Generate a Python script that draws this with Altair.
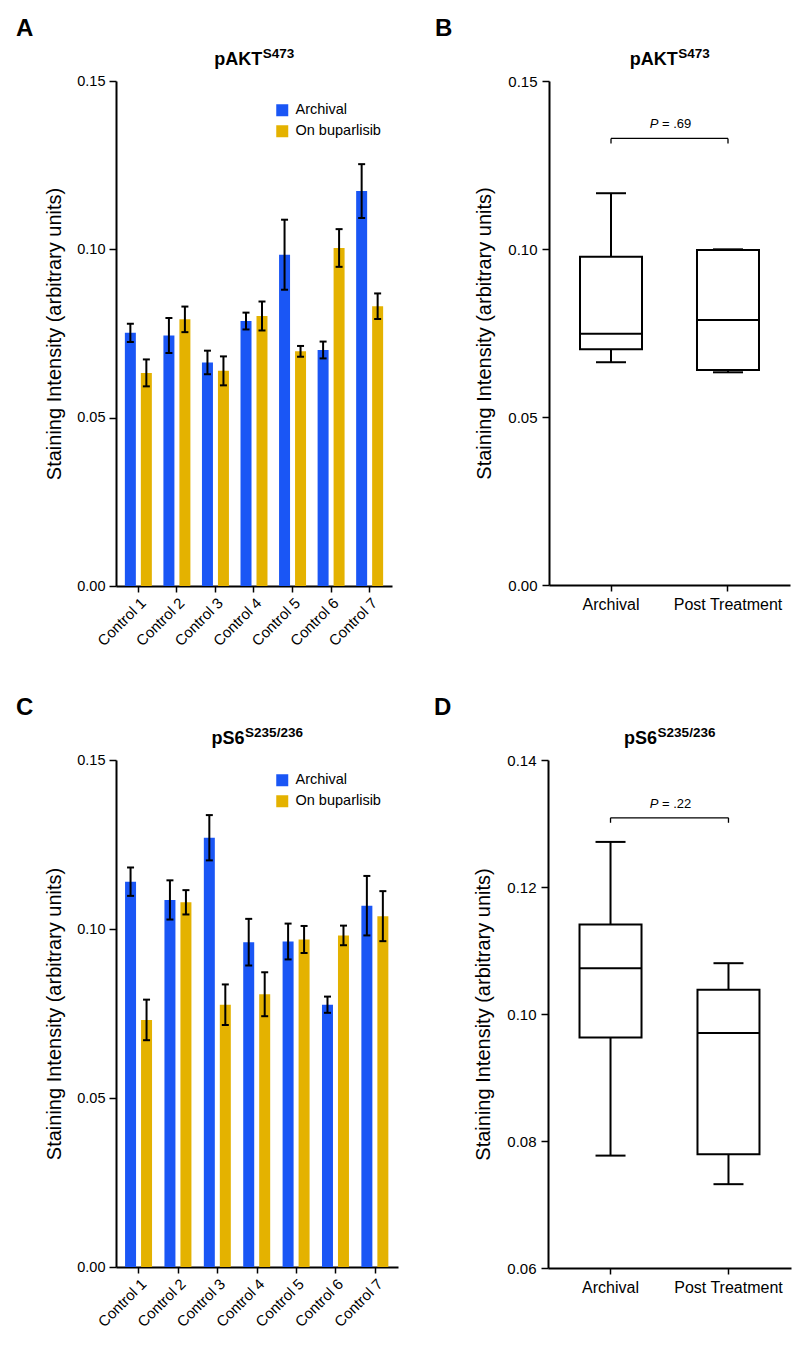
import altair as alt
import pandas as pd

# ---------------- data ----------------
controls = ["Control 1", "Control 2", "Control 3", "Control 4", "Control 5", "Control 6", "Control 7"]
series = ["Archival", "On buparlisib"]
colors = ["#1a56f5", "#e4b200"]

akt_archival = [0.0752, 0.0744, 0.0664, 0.0787, 0.0984, 0.0701, 0.1173]
akt_archival_err = [0.0027, 0.0052, 0.0035, 0.0025, 0.0104, 0.0025, 0.0080]
akt_buparlisib = [0.0633, 0.0792, 0.0639, 0.0802, 0.0697, 0.1004, 0.0831]
akt_buparlisib_err = [0.0040, 0.0038, 0.0043, 0.0043, 0.0016, 0.0056, 0.0038]

s6_archival = [0.1140, 0.1086, 0.1270, 0.0961, 0.0963, 0.0776, 0.1069]
s6_archival_err = [0.0042, 0.0058, 0.0067, 0.0069, 0.0053, 0.0024, 0.0088]
s6_buparlisib = [0.0731, 0.1079, 0.0776, 0.0807, 0.0969, 0.0981, 0.1038]
s6_buparlisib_err = [0.0060, 0.0036, 0.0060, 0.0065, 0.0040, 0.0029, 0.0074]

groups = ["Archival", "Post Treatment"]
akt_min = [0.0663, 0.0633]
akt_q1 = [0.0702, 0.0640]
akt_median = [0.0748, 0.0789]
akt_q3 = [0.0977, 0.0997]
akt_max = [0.1166, 0.0999]
s6_min = [0.0777, 0.0732]
s6_q1 = [0.0963, 0.0779]
s6_median = [0.1072, 0.0970]
s6_q3 = [0.1141, 0.1038]
s6_max = [0.1271, 0.1080]

akt_bracket = [0.1329]
akt_p = ["= .69"]
s6_bracket = [0.1309]
s6_p = ["= .22"]

YTITLE = "Staining Intensity (arbitrary units)"
FONT = "Liberation Sans"


def axis_common(**kw):
    base = dict(domainColor="black", domainWidth=2, tickColor="black", tickWidth=1.5,
                labelColor="black", titleColor="black", grid=False, labelFont=FONT,
                titleFont=FONT)
    base.update(kw)
    return alt.Axis(**base)


def header_layers(letter, main, sup, width, join_shift):
    one = pd.DataFrame({"k": [0]})
    letter_t = alt.Chart(one).mark_text(text=letter, font=FONT, fontSize=24, fontWeight="bold",
                                        align="left", baseline="alphabetic", color="black").encode(
        x=alt.value(-100 if letter in "AC" else -114), y=alt.value(-45))
    main_t = alt.Chart(one).mark_text(text=main, font=FONT, fontSize=18, fontWeight="bold",
                                      align="right", baseline="alphabetic", color="black").encode(
        x=alt.value(width / 2 + join_shift), y=alt.value(-16))
    sup_t = alt.Chart(one).mark_text(text=sup, font=FONT, fontSize=13.5, fontWeight="bold",
                                     align="left", baseline="alphabetic", color="black").encode(
        x=alt.value(width / 2 + join_shift + 0.5), y=alt.value(-23))
    return [letter_t, main_t, sup_t]


def bar_panel(arch, arch_err, bup, bup_err, letter, main, sup, width, height, legend_y, join_shift):
    rows = []
    for vals, errs, s in ((arch, arch_err, series[0]), (bup, bup_err, series[1])):
        for c, v, e in zip(controls, vals, errs):
            rows.append(dict(control=c, series=s, value=v, lo=v - e, hi=v + e))
    df = pd.DataFrame(rows)
    xaxis = axis_common(title=None, labelAngle=-45, labelFontSize=15, tickSize=6, labelPadding=3)
    x = alt.X("control:N", sort=controls, axis=xaxis,
              scale=alt.Scale(paddingInner=0.3, paddingOuter=0.23))
    xo = alt.XOffset("series:N", sort=series, scale=alt.Scale(paddingInner=0.3125, paddingOuter=0))
    yscale = alt.Scale(domain=[0, 0.15], nice=False)
    yaxis = axis_common(title=YTITLE, values=[0, 0.05, 0.10, 0.15], format=".2f", labelFontSize=14.5,
                        titleFontSize=20, titleFontWeight="normal", titlePadding=12, tickSize=7,
                        labelPadding=4)
    base = alt.Chart(df)
    bars = base.mark_bar().encode(
        x=x, xOffset=xo,
        y=alt.Y("value:Q", scale=yscale, axis=yaxis),
        color=alt.Color("series:N", scale=alt.Scale(domain=series, range=colors),
                        legend=alt.Legend(title=None, orient="none", legendX=159, legendY=legend_y,
                                          symbolType="square", symbolSize=144, symbolStrokeWidth=0,
                                          labelFontSize=14.5, labelFont=FONT, labelColor="black",
                                          rowPadding=6, labelOffset=6, padding=0)))
    err = base.mark_rule(strokeWidth=2, color="black").encode(
        x=x, xOffset=xo, y=alt.Y("lo:Q", scale=yscale, axis=yaxis), y2="hi:Q")
    cap_hi = base.mark_tick(size=7, thickness=2, color="black", opacity=1).encode(
        x=x, xOffset=xo, y=alt.Y("hi:Q", scale=yscale, axis=yaxis))
    cap_lo = base.mark_tick(size=7, thickness=2, color="black", opacity=1).encode(
        x=x, xOffset=xo, y=alt.Y("lo:Q", scale=yscale, axis=yaxis))
    layers = [bars, err, cap_hi, cap_lo] + header_layers(letter, main, sup, width, join_shift)
    return alt.layer(*layers).properties(width=width, height=height)


def box_panel(mins, q1s, meds, q3s, maxs, bracket, ptxt, letter, main, sup, width, height,
              ydomain, yvalues, join_shift):
    df = pd.DataFrame(dict(group=groups, lo=mins, q1=q1s, med=meds, q3=q3s, hi=maxs))
    xaxis = axis_common(title=None, labelAngle=0, labelFontSize=16, tickSize=6, labelPadding=5)
    x = alt.X("group:N", sort=groups, axis=xaxis, scale=alt.Scale(paddingInner=0, paddingOuter=0.03))
    yscale = alt.Scale(domain=ydomain, nice=False)
    yaxis = axis_common(title=YTITLE, values=yvalues, format=".2f", labelFontSize=15,
                        titleFontSize=20, titleFontWeight="normal", titlePadding=13, tickSize=7,
                        labelPadding=5)
    base = alt.Chart(df)
    w_lo = base.mark_rule(strokeWidth=2, color="black").encode(
        x=x, y=alt.Y("lo:Q", scale=yscale, axis=yaxis), y2="q1:Q")
    w_hi = base.mark_rule(strokeWidth=2, color="black").encode(
        x=x, y=alt.Y("q3:Q", scale=yscale, axis=yaxis), y2="hi:Q")
    cap_lo = base.mark_tick(size=30, thickness=2, color="black", opacity=1).encode(
        x=x, y=alt.Y("lo:Q", scale=yscale, axis=yaxis))
    cap_hi = base.mark_tick(size=30, thickness=2, color="black", opacity=1).encode(
        x=x, y=alt.Y("hi:Q", scale=yscale, axis=yaxis))
    box = base.mark_bar(size=62, fill="white", stroke="black", strokeWidth=2).encode(
        x=x, y=alt.Y("q1:Q", scale=yscale, axis=yaxis), y2="q3:Q")
    med = base.mark_tick(size=62, thickness=2, color="black", opacity=1).encode(
        x=x, y=alt.Y("med:Q", scale=yscale, axis=yaxis))

    bdf = pd.DataFrame(dict(group=groups, y=bracket * 2))
    bline = alt.Chart(bdf).mark_line(color="black", strokeWidth=1.3).encode(
        x=x, y=alt.Y("y:Q", scale=yscale, axis=yaxis))
    bticks = alt.Chart(bdf).mark_tick(orient="vertical", size=5, thickness=1.3, yOffset=2.5,
                                      color="black", opacity=1).encode(
        x=x, y=alt.Y("y:Q", scale=yscale, axis=yaxis))
    pdf = pd.DataFrame(dict(y=bracket, t=ptxt))
    p_it = alt.Chart(pdf).mark_text(text="P", font=FONT, fontSize=13, fontStyle="italic",
                                    align="right", baseline="alphabetic", dy=-10, color="black").encode(
        x=alt.value(width / 2 - 11), y=alt.Y("y:Q", scale=yscale, axis=yaxis))
    p_rest = alt.Chart(pdf).mark_text(font=FONT, fontSize=13, align="left", baseline="alphabetic",
                                      dy=-10, color="black").encode(
        x=alt.value(width / 2 - 7.5), y=alt.Y("y:Q", scale=yscale, axis=yaxis), text="t:N")
    layers = [w_lo, w_hi, cap_lo, cap_hi, box, med, bline, bticks, p_it, p_rest] + \
        header_layers(letter, main, sup, width, join_shift)
    return alt.layer(*layers).properties(width=width, height=height)


panel_a = bar_panel(akt_archival, akt_archival_err, akt_buparlisib, akt_buparlisib_err,
                    "A", "pAKT", "S473", 276, 505, 22, 8.25)
panel_b = box_panel(akt_min, akt_q1, akt_median, akt_q3, akt_max, akt_bracket, akt_p,
                    "B", "pAKT", "S473", 241, 504, [0, 0.15], [0, 0.05, 0.10, 0.15], 8.25)
panel_c = bar_panel(s6_archival, s6_archival_err, s6_buparlisib, s6_buparlisib_err,
                    "C", "pS6", "S235/236", 282, 507, 13, -12.4)
panel_d = box_panel(s6_min, s6_q1, s6_median, s6_q3, s6_max, s6_bracket, s6_p,
                    "D", "pS6", "S235/236", 243, 508, [0.06, 0.14],
                    [0.06, 0.08, 0.10, 0.12, 0.14], -12.4)

row1 = alt.hconcat(panel_a, panel_b, spacing=41)
row2 = alt.hconcat(panel_c, panel_d, spacing=34)

chart = alt.vconcat(row1, row2, spacing=45).resolve_scale(color="independent").resolve_legend(
    color="independent").properties(
    padding={"left": 7, "top": 8, "right": 5, "bottom": 5}
).configure(font=FONT).configure_view(stroke="transparent")

chart.save("out.html", embed_options={"renderer": "svg", "actions": False})
